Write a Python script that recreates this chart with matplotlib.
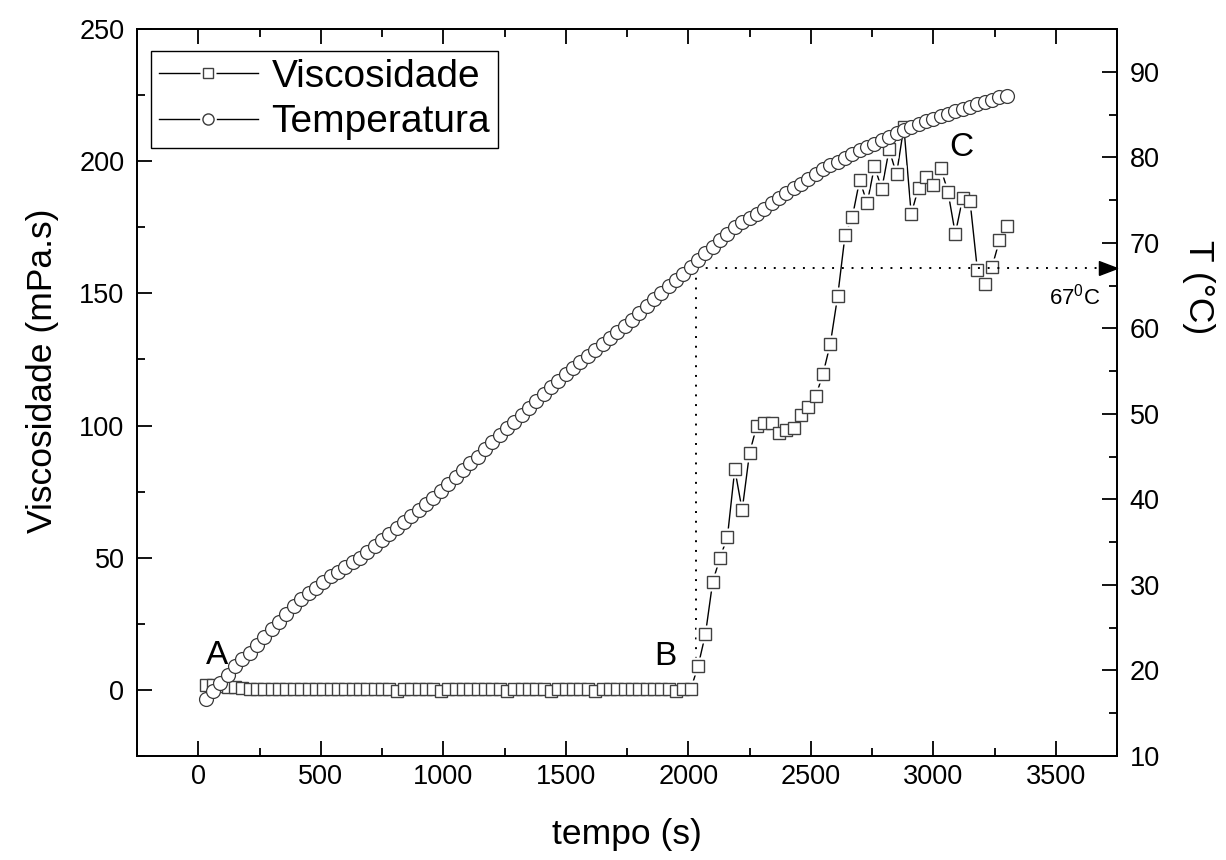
import matplotlib
matplotlib.use("Agg")
import matplotlib.pyplot as plt
from matplotlib.lines import Line2D
from matplotlib.legend_handler import HandlerTuple
from matplotlib.ticker import MultipleLocator

plt.rcParams['font.family'] = ['Liberation Sans', 'DejaVu Sans']
plt.rcParams['mathtext.fontset'] = 'custom'
plt.rcParams['mathtext.rm'] = 'Liberation Sans'

# ---------------- data ----------------
tempo = [30, 60, 90, 120, 150, 180, 210, 240, 270, 300,
         330, 360, 390, 420, 450, 480, 510, 540, 570, 600,
         630, 660, 690, 720, 750, 780, 810, 840, 870, 900,
         930, 960, 990, 1020, 1050, 1080, 1110, 1140, 1170, 1200,
         1230, 1260, 1290, 1320, 1350, 1380, 1410, 1440, 1470, 1500,
         1530, 1560, 1590, 1620, 1650, 1680, 1710, 1740, 1770, 1800,
         1830, 1860, 1890, 1920, 1950, 1980, 2010, 2040, 2070, 2100,
         2130, 2160, 2190, 2220, 2250, 2280, 2310, 2340, 2370, 2400,
         2430, 2460, 2490, 2520, 2550, 2580, 2610, 2640, 2670, 2700,
         2730, 2760, 2790, 2820, 2850, 2880, 2910, 2940, 2970, 3000,
         3030, 3060, 3090, 3120, 3150, 3180, 3210, 3240, 3270, 3300]

viscosidade = [2.0, 1.8, 1.5, 1.2, 1.0, 0.6, 0.3, 0.3, 0.2, 0.2,
               0.2, 0.2, 0.2, 0.2, 0.2, 0.2, 0.2, 0.2, 0.2, 0.2,
               0.2, 0.2, 0.2, 0.2, 0.2, 0.2, -0.4, 0.2, 0.2, 0.2,
               0.2, 0.2, -0.4, 0.2, 0.2, 0.2, 0.2, 0.2, 0.2, 0.2,
               0.2, -0.4, 0.2, 0.2, 0.2, 0.2, 0.2, -0.4, 0.2, 0.2,
               0.2, 0.2, 0.2, -0.4, 0.2, 0.2, 0.2, 0.2, 0.2, 0.2,
               0.2, 0.2, 0.2, 0.2, -0.4, 0.2, 0.2, 9.0, 21.0, 41.0,
               50.0, 58.0, 83.5, 68.0, 89.5, 100.0, 101.0, 101.0, 97.0, 98.5,
               99.0, 104.0, 107.0, 111.0, 119.5, 131.0, 149.0, 172.0, 179.0, 193.0,
               184.0, 198.0, 189.5, 204.5, 195.0, 213.0, 180.0, 190.0, 194.0, 191.0,
               197.5, 188.5, 172.5, 186.0, 185.0, 159.0, 153.5, 160.0, 170.0, 175.5]

temperatura = [16.7, 17.6, 18.5, 19.5, 20.5, 21.3, 22.1, 23.0, 23.9, 24.8,
               25.7, 26.6, 27.5, 28.3, 29.0, 29.7, 30.4, 31.0, 31.5, 32.1,
               32.7, 33.2, 33.9, 34.6, 35.3, 36.0, 36.7, 37.4, 38.1, 38.8,
               39.5, 40.2, 41.0, 41.8, 42.6, 43.4, 44.2, 45.0, 45.9, 46.7,
               47.5, 48.3, 49.1, 49.9, 50.7, 51.5, 52.3, 53.1, 53.9, 54.7,
               55.4, 56.1, 56.8, 57.5, 58.2, 58.9, 59.6, 60.3, 61.0, 61.8,
               62.6, 63.4, 64.1, 64.9, 65.7, 66.4, 67.2, 68.0, 68.8, 69.5,
               70.3, 71.0, 71.8, 72.4, 72.9, 73.4, 74.0, 74.6, 75.2, 75.8,
               76.4, 76.9, 77.5, 78.0, 78.6, 79.1, 79.5, 79.9, 80.4, 80.8,
               81.2, 81.6, 82.0, 82.4, 82.8, 83.2, 83.5, 83.9, 84.2, 84.5,
               84.8, 85.1, 85.4, 85.7, 85.9, 86.2, 86.5, 86.7, 87.0, 87.2]

gel_t = 2030      # instant marked by the dotted guide (s)
gel_T = 67        # temperature marked (deg C)
visc_B = 11       # viscosity level where the vertical guide stops

labels_pts = {'A': (75, 13), 'B': (1908, 12.5), 'C': (3114, 205)}

# ---------------- figure ----------------
W, H = 1226, 860
fig = plt.figure(figsize=(W / 100, H / 100), dpi=100)
L, R, T, B = 137, 1117, 29, 756
ax = fig.add_axes([L / W, 1 - B / H, (R - L) / W, (B - T) / H])
ax2 = ax.twinx()

ax.set_xlim(-250, 3750)
ax.set_ylim(-25, 250)
ax2.set_ylim(10, 95)

# viscosity: line with gaps around symbols
ax.plot(tempo, viscosidade, color='k', lw=1.0, zorder=2)
ax.plot(tempo, viscosidade, ls='none', marker='s', ms=13, mfc='white',
        mec='none', zorder=3)
ax.plot(tempo, viscosidade, ls='none', marker='s', ms=9, mfc='white',
        mec='#404040', mew=1.0, zorder=4)

# temperature
ax2.plot(tempo, temperatura, color='k', lw=1.0, marker='o', ms=10,
         mfc='white', mec='#3a3a3a', mew=0.9, zorder=3)

# dotted guides
y0, y1 = ax.get_ylim()
T0, T1 = ax2.get_ylim()
V_gel = y0 + (gel_T - T0) * (y1 - y0) / (T1 - T0)
ax.plot([gel_t, gel_t], [V_gel, visc_B], color='k', lw=1.4,
        ls=(0, (1, 4)), zorder=1)
ax2.plot([gel_t, ax.get_xlim()[1]], [gel_T, gel_T], color='k', lw=1.4,
         ls=(0, (1, 4)), zorder=1)
ax2.plot([1.0], [gel_T], transform=ax2.get_yaxis_transform(), ls='none',
         marker=[(-1, -0.38), (0, 0), (-1, 0.38), (-1, -0.38)], ms=26,
         color='k', clip_on=False, zorder=5)
ax2.text(3684, 63.7, r'67$^{\mathrm{0}}$C', fontsize=16, ha='right',
         va='center')

for lab, (x, y) in labels_pts.items():
    ax.text(x, y, lab, fontsize=24, ha='center', va='center', zorder=6)

# ticks and spines
ax.xaxis.set_major_locator(MultipleLocator(500))
ax.xaxis.set_minor_locator(MultipleLocator(250))
ax.yaxis.set_major_locator(MultipleLocator(50))
ax.yaxis.set_minor_locator(MultipleLocator(25))
ax2.yaxis.set_major_locator(MultipleLocator(10))
ax2.yaxis.set_minor_locator(MultipleLocator(5))

ax.tick_params(axis='both', which='both', direction='in', top=True,
               right=False, width=1.3)
ax.tick_params(axis='both', which='major', length=11, labelsize=19.5, pad=9)
ax.tick_params(axis='x', which='major', pad=6)
ax.tick_params(axis='both', which='minor', length=6)
ax2.tick_params(axis='y', which='both', direction='in', width=1.3)
ax2.tick_params(axis='y', which='major', length=11, labelsize=19.5, pad=9)
ax2.tick_params(axis='y', which='minor', length=6)
for a in (ax, ax2):
    for s in a.spines.values():
        s.set_linewidth(1.3)

ax.set_xlabel('tempo (s)', fontsize=25.5)
ax.set_ylabel('Viscosidade (mPa.s)', fontsize=25.5)
ax2.set_ylabel('T (°C)', fontsize=25.5, rotation=-90)
ax.xaxis.set_label_coords(0.5, -0.085)
ax.yaxis.set_label_coords(-0.08, 0.53)
ax2.yaxis.set_label_coords(1.10, 0.645)

# legend
h_v = (Line2D([], [], color='k', lw=1.0),
       Line2D([], [], ls='none', marker='s', ms=11, mfc='white', mec='none'),
       Line2D([], [], ls='none', marker='s', ms=7, mfc='white',
              mec='#404040', mew=1.0))
h_t = (Line2D([], [], color='k', lw=1.0),
       Line2D([], [], ls='none', marker='o', ms=12, mfc='white', mec='none'),
       Line2D([], [], ls='none', marker='o', ms=8, mfc='white',
              mec='#3a3a3a', mew=1.0))
leg = ax2.legend([h_v, h_t], ['Viscosidade', 'Temperatura'],
                 handler_map={tuple: HandlerTuple(ndivide=1)},
                 loc='upper left', bbox_to_anchor=(0.0143, 0.970),
                 fontsize=28, frameon=True, fancybox=False, edgecolor='k',
                 framealpha=1, handlelength=2.55, handletextpad=0.35,
                 labelspacing=0.25, borderpad=0.2, borderaxespad=0)
leg.get_frame().set_linewidth(1.0)

fig.savefig('out.png', dpi=100)
